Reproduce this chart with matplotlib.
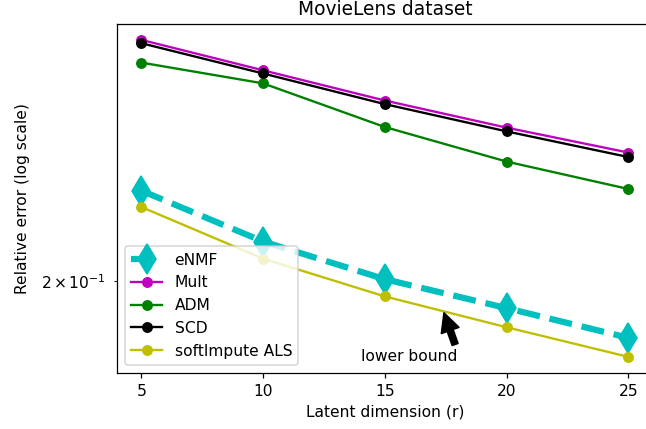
import numpy as np
import matplotlib
matplotlib.use("Agg")
import matplotlib.pyplot as plt
from matplotlib.ticker import FixedLocator, FixedFormatter, NullLocator, NullFormatter

# latent dimension r
ranks = [5, 10, 15, 20, 25]

# relative errors
err_enmf = [0.2254, 0.2108, 0.2006, 0.1931, 0.1857]
err_mult = [0.2749, 0.2641, 0.2538, 0.2449, 0.2370]
err_adm = [0.2668, 0.2596, 0.2451, 0.2342, 0.2259]
err_scd = [0.2737, 0.2630, 0.2526, 0.2437, 0.2356]
err_soft = [0.2206, 0.2061, 0.1961, 0.1883, 0.1811]

# only one (minor) tick falls inside the view
ytick_vals = [0.2]
ytick_labels = [r'$\mathdefault{2\,{\times}\,10^{-1}}$']

dpi = 112
fig = plt.figure(figsize=(646 / dpi, 429 / dpi), dpi=dpi)
# the original image is cropped on the right, so the axes run past the edge
ax = fig.add_axes([0.1811, 0.1312, 0.8293, 0.8128])

ax.plot(ranks, err_enmf, 'c--', marker='d', markersize=14, linewidth=4, label='eNMF')
ax.plot(ranks, err_mult, 'm-o', label='Mult')
ax.plot(ranks, err_adm, 'g-o', label='ADM')
ax.plot(ranks, err_scd, 'k-o', label='SCD')
ax.plot(ranks, err_soft, 'y-o', label='softImpute ALS')

ax.set_yscale('log')
ax.yaxis.set_major_locator(NullLocator())
ax.yaxis.set_major_formatter(NullFormatter())
ax.yaxis.set_minor_locator(FixedLocator(ytick_vals))
ax.yaxis.set_minor_formatter(FixedFormatter(ytick_labels))
ax.tick_params(axis='y', which='minor', pad=5.5)
ax.set_xticks(ranks)
ax.set_xlabel('Latent dimension (r)')
ax.set_ylabel('Relative error (log scale)', labelpad=6.5)
ax.set_title('MovieLens dataset', fontsize=12)

ax.annotate('lower bound', xy=(17.4, 0.1924), xytext=(14, 0.18),
            arrowprops=dict(facecolor='black', shrink=0.05))

ax.legend(loc='lower left')

fig.savefig('out.png', dpi=dpi)
